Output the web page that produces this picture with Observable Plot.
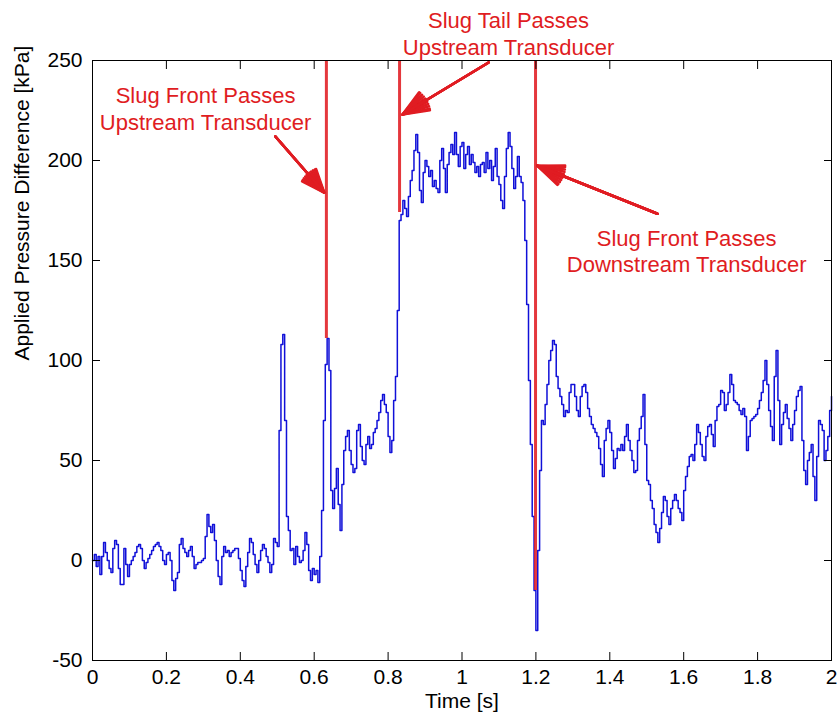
<!DOCTYPE html>
<html>
<head>
<meta charset="utf-8">
<script src="https://cdn.jsdelivr.net/npm/d3@7"></script>
<script src="https://cdn.jsdelivr.net/npm/@observablehq/plot@0.6"></script>
<style>
html, body { margin: 0; padding: 0; background: #ffffff; }
#chart svg { display: block; }
</style>
</head>
<body>
<div id="chart"></div>
<script>
// Sampling step of the pressure record (s)
const sampleStep = 0.005;

// Applied pressure difference [kPa], one value per 0.005 s from 0 to 2 s
const pressure = [
  0, 3, -3, 2, -7, 2, 9, 4, 0, -4,
  -6, 6, 10, 8, -4, -12, -12, 6, -2, -8,
  -2, 0, 2, 4, 7, 8, 6, 0, -4, -1,
  1, 3, 5, 7, 8, 9, 7, 5, 0, -2,
  3, 4, 0, -10, -15, -9, -6, 8, 11, 6,
  4, 2, 5, 7, 2, -4, -2, -1, -1, 0,
  1, 12, 23, 17, 14, 18, 10, 0, -8, -12,
  2, 7, 4, 5, 2, 4, 5, 6, 6, 1,
  -5, -10, -13, -3, 4, 11, 9, 3, -2, -6,
  0, 5, 8, 6, 2, -1, -6, -2, 11, 9,
  7, 65, 108, 113, 70, 22, 15, 5, 6, -2,
  7, 2, -1, 0, 5, 14, 8, -5, -10, -4,
  -7, -5, -11, 2, 25, 70, 98, 111, 95, 35,
  26, 36, 46, 28, 15, 38, 55, 62, 65, 55,
  48, 44, 46, 65, 68, 57, 50, 48, 58, 62,
  56, 58, 64, 66, 70, 74, 80, 83, 78, 74,
  62, 54, 60, 80, 92, 125, 170, 173, 180, 176,
  172, 182, 190, 195, 205, 213, 204, 185, 179, 194,
  200, 197, 192, 195, 187, 190, 186, 184, 200, 206,
  196, 184, 198, 204, 208, 203, 214, 203, 197, 207,
  209, 196, 203, 207, 198, 203, 199, 194, 197, 192,
  198, 199, 194, 204, 196, 200, 190, 197, 206, 192,
  188, 180, 176, 192, 206, 214, 207, 196, 186, 192,
  202, 192, 189, 180, 160, 128, 90, 58, 22, -15,
  -35, 5, 45, 70, 68, 78, 88, 100, 105, 110,
  108, 92, 86, 82, 78, 72, 75, 74, 84, 88,
  88, 82, 75, 72, 82, 87, 88, 84, 76, 72,
  68, 66, 64, 62, 56, 48, 42, 60, 66, 70,
  64, 55, 46, 51, 56, 55, 58, 55, 62, 68,
  60, 55, 50, 44, 45, 60, 66, 72, 83, 58,
  40, 38, 30, 26, 18, 14, 9, 16, 24, 32,
  30, 22, 18, 26, 30, 33, 30, 26, 24, 20,
  35, 42, 47, 52, 53, 50, 58, 68, 64, 58,
  52, 50, 62, 67, 68, 63, 57, 70, 77, 78,
  85, 84, 75, 78, 84, 93, 88, 80, 79, 78,
  75, 73, 76, 72, 55, 62, 70, 71, 72, 73,
  76, 80, 84, 90, 100, 88, 75, 67, 60, 92,
  105, 80, 58, 68, 74, 78, 71, 66, 60, 68,
  75, 82, 85, 87, 60, 45, 38, 50, 54, 58,
  42, 30, 52, 70, 68, 65, 50, 55, 62, 75,
  82
];

// Axis ticks
const xTicks = [0, 0.2, 0.4, 0.6, 0.8, 1, 1.2, 1.4, 1.6, 1.8, 2];
const xTickLabels = ["0", "0.2", "0.4", "0.6", "0.8", "1", "1.2", "1.4", "1.6", "1.8", "2"];
const yTicks = [-50, 0, 50, 100, 150, 200, 250];
const yTickLabels = ["-50", "0", "50", "100", "150", "200", "250"];
const xDomain = [0, 2];
const yDomain = [-50, 250];

// Event markers (red vertical lines): time [s], top and bottom value [kPa]
const markerTime = [0.633, 0.831, 1.199];
const markerTop = [250, 250, 250];
const markerBottom = [111, 174, -15];

// Annotations
const noteText = [
  "Slug Front Passes\nUpstream Transducer",
  "Slug Tail Passes\nUpstream Transducer",
  "Slug Front Passes\nDownstream Transducer"
];
const noteTime = [0.306, 1.126, 1.608];
const noteValue = [238, 275.4, 166.8];
const arrowFromTime = [0.495, 1.072, 1.529];
const arrowFromValue = [212, 249, 173.4];
const arrowToTime = [0.627, 0.839, 1.204];
const arrowToValue = [184, 223, 197.4];

const series = pressure.map((v, i) => ({t: i * sampleStep, v}));
const markers = markerTime.map((t, i) => ({t, top: markerTop[i], bottom: markerBottom[i]}));
const notes = noteText.map((text, i) => ({text, t: noteTime[i], v: noteValue[i]}));
const arrows = arrowFromTime.map((t1, i) => ({
  t1, v1: arrowFromValue[i], t2: arrowToTime[i], v2: arrowToValue[i]
}));

const red = "#e01c22";
const labelOf = new Map(xTicks.map((d, i) => [d, xTickLabels[i]]));
const yLabelOf = new Map(yTicks.map((d, i) => [d, yTickLabels[i]]));

const chart = Plot.plot({
  width: 837,
  height: 722,
  marginLeft: 92,
  marginRight: 6,
  marginTop: 60,
  marginBottom: 62,
  x: {domain: xDomain},
  y: {domain: yDomain},
  style: {
    fontFamily: "'Liberation Sans', Arial, Helvetica, sans-serif",
    fontSize: "21px",
    background: "#ffffff",
    color: "#000000",
    overflow: "visible"
  },
  marks: [
    Plot.line(series, {x: "t", y: "v", stroke: "#1010d8", strokeWidth: 1.5, curve: "step-after"}),
    Plot.ruleX(markers, {x: "t", y1: "top", y2: "bottom", stroke: red, strokeWidth: 3, strokeOpacity: 0.88}),
    ...[8, 18, 28, 38, 44].map(a => Plot.arrow(arrows, {
      x1: "t1", y1: "v1", x2: "t2", y2: "v2",
      stroke: red, strokeWidth: 2.6, headAngle: a, headLength: 16
    })),
    Plot.text(notes, {
      x: "t", y: "v", text: "text", fill: red, fontSize: 22,
      lineAnchor: "top", lineHeight: 1.2, textAnchor: "middle"
    }),
    Plot.frame({stroke: "#000000", strokeWidth: 1}),
    // inward ticks on all four sides
    Plot.axisX({anchor: "bottom", ticks: xTicks, tickSize: -8, tickFormat: () => "", label: null}),
    Plot.axisX({anchor: "top", ticks: xTicks, tickSize: -8, tickFormat: () => "", label: null}),
    Plot.axisY({anchor: "left", ticks: yTicks, tickSize: -8, tickFormat: () => "", label: null}),
    Plot.axisY({anchor: "right", ticks: yTicks, tickSize: -8, tickFormat: () => "", label: null}),
    // tick labels
    Plot.axisX({anchor: "bottom", ticks: xTicks, tickSize: 0, tickPadding: 9, fontSize: 21,
      tickFormat: d => labelOf.get(d), label: null}),
    Plot.axisY({anchor: "left", ticks: yTicks, tickSize: 0, tickPadding: 10, fontSize: 21,
      tickFormat: d => yLabelOf.get(d), label: null}),
    // axis titles
    Plot.text(["Time [s]"], {frameAnchor: "bottom", dy: 47, fontSize: 21, fill: "#000000", text: d => d}),
    Plot.text(["Applied Pressure Difference [kPa]"], {frameAnchor: "left", dx: -70, rotate: -90,
      fontSize: 21, fill: "#000000", text: d => d})
  ]
});

document.getElementById("chart").appendChild(chart);
</script>
</body>
</html>
